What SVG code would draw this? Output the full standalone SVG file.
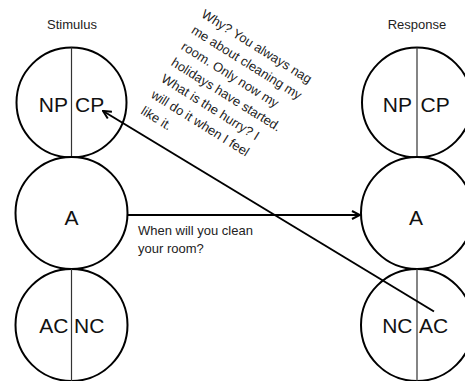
<svg xmlns="http://www.w3.org/2000/svg" width="465" height="381" viewBox="0 0 465 381">
  <style>
    .ego { fill: #ffffff; stroke: #000000; stroke-width: 2; }
    .split { stroke: #333333; stroke-width: 1.2; }
    .state { font-family: "Liberation Sans", Arial, sans-serif; font-size: 21px; fill: #111111; }
    .head { font-family: "Liberation Sans", Arial, sans-serif; font-size: 13px; fill: #222222; text-anchor: middle; }
    .msg { font-family: "Liberation Sans", Arial, sans-serif; font-size: 13px; fill: #222222; }
    .link { fill: none; stroke: #000000; stroke-width: 2; }
  </style>
  <defs>
    <marker id="arrow" viewBox="0 0 10 10" refX="9" refY="5" markerWidth="10" markerHeight="10" markerUnits="userSpaceOnUse" orient="auto">
      <path d="M1,1 L9,5 L1,9" fill="none" stroke="#000000" stroke-width="2"/>
    </marker>
  </defs>
  <rect width="465" height="381" fill="#ffffff"/>

  <!-- column headings -->
  <text class="head" x="72" y="29">Stimulus</text>
  <text class="head" x="417" y="29">Response</text>

  <!-- stimulus side ego states -->
  <g id="stimulus-parent">
    <circle class="ego" cx="71.5" cy="102.5" r="55"/>
    <line class="split" x1="71.5" y1="47.5" x2="71.5" y2="157.5"/>
    <text class="state" x="68" y="112" text-anchor="end">NP</text>
    <text class="state" x="75" y="112">CP</text>
  </g>
  <g id="stimulus-adult">
    <circle class="ego" cx="71.5" cy="213" r="56"/>
    <text class="state" x="71.5" y="225" text-anchor="middle" font-size="24">A</text>
  </g>
  <g id="stimulus-child">
    <circle class="ego" cx="71.5" cy="325" r="56"/>
    <line class="split" x1="71.5" y1="269" x2="71.5" y2="381"/>
    <text class="state" x="68.5" y="333" text-anchor="end" font-size="20">AC</text>
    <text class="state" x="74" y="333" font-size="20">NC</text>
  </g>

  <!-- response side ego states -->
  <g id="response-parent">
    <circle class="ego" cx="417" cy="102.5" r="55"/>
    <line class="split" x1="417" y1="47.5" x2="417" y2="157.5"/>
    <text class="state" x="412" y="112" text-anchor="end">NP</text>
    <text class="state" x="420.5" y="112">CP</text>
  </g>
  <g id="response-adult">
    <circle class="ego" cx="417" cy="213" r="56"/>
    <text class="state" x="416" y="224.5" text-anchor="middle" font-size="24">A</text>
  </g>
  <g id="response-child">
    <circle class="ego" cx="417" cy="325" r="56"/>
    <line class="split" x1="417" y1="269" x2="417" y2="381"/>
    <text class="state" x="412.5" y="333" text-anchor="end" font-size="20">NC</text>
    <text class="state" x="419" y="333" font-size="20">AC</text>
  </g>

  <!-- transactions -->
  <g id="connectors">
    <line class="link" x1="127.5" y1="215" x2="360" y2="215" marker-end="url(#arrow)"/>
    <line class="link" x1="434" y1="311.5" x2="103" y2="111" marker-end="url(#arrow)"/>
  </g>

  <!-- messages -->
  <text class="msg" font-size="13.5">
    <tspan x="138" y="235">When will  you clean</tspan>
    <tspan x="138" y="253">your room?</tspan>
  </text>
  <text class="msg" transform="translate(200.5,16.5) rotate(32)">
    <tspan x="0" y="0">Why? You always nag</tspan>
    <tspan x="0" y="19">me about cleaning my</tspan>
    <tspan x="0" y="38">room.  Only now my</tspan>
    <tspan x="0" y="57">holidays have started.</tspan>
    <tspan x="0" y="76">What is the hurry? I</tspan>
    <tspan x="0" y="95">will do it when I feel</tspan>
    <tspan x="0" y="114">like it.</tspan>
  </text>
</svg>
